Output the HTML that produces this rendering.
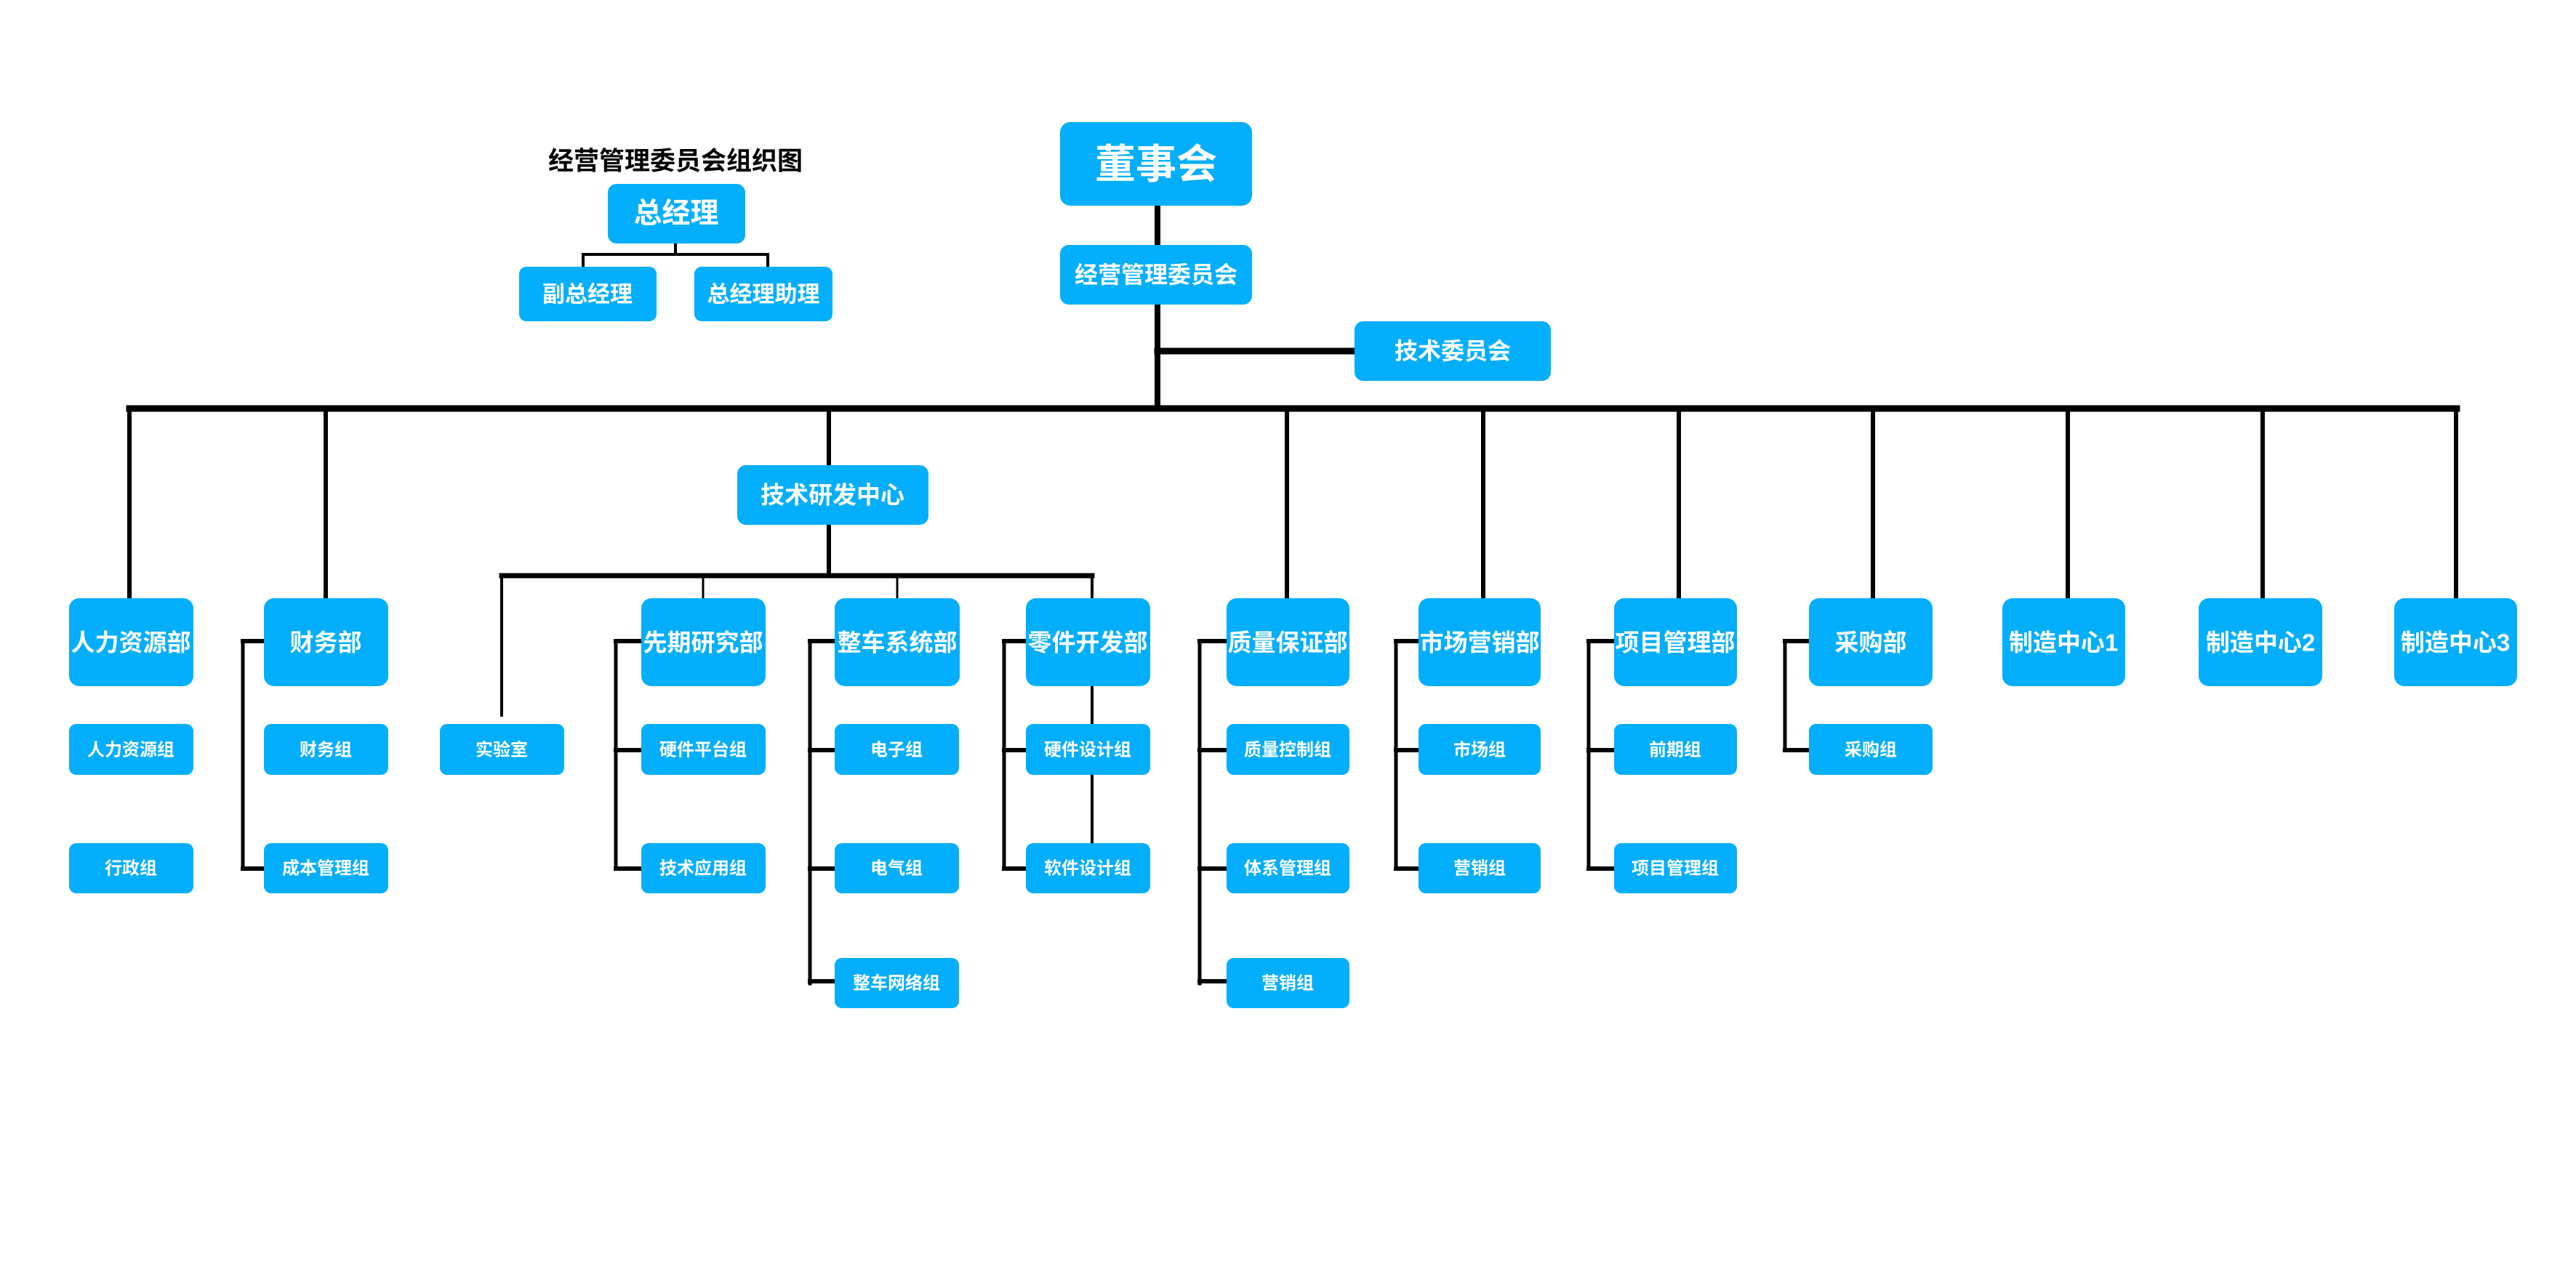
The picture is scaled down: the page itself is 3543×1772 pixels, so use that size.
<!DOCTYPE html>
<html><head><meta charset="utf-8"><style>
html,body{margin:0;padding:0;background:#fff;}
svg{display:block;}
text{font-family:"Liberation Sans","Noto Sans CJK SC",sans-serif;font-weight:bold;fill:#fff;text-anchor:middle;dominant-baseline:central;}
.t{fill:#000;}
rect{fill:#03aefd;}
</style></head><body>
<svg width="3543" height="1772" viewBox="0 0 3543 1772" xmlns="http://www.w3.org/2000/svg">
<g stroke="#000" fill="none" stroke-linecap="square">
<line x1="1592" y1="283" x2="1592" y2="562" stroke-width="8"/>
<line x1="1592" y1="483" x2="1863" y2="483" stroke-width="9"/>
<line x1="178" y1="562" x2="3379" y2="562" stroke-width="9"/>
<g stroke-width="6">
<line x1="178" y1="562" x2="178" y2="823"/>
<line x1="448" y1="562" x2="448" y2="823"/>
<line x1="1140" y1="562" x2="1140" y2="640"/>
<line x1="1770" y1="562" x2="1770" y2="823"/>
<line x1="2040" y1="562" x2="2040" y2="823"/>
<line x1="2309" y1="562" x2="2309" y2="823"/>
<line x1="2576" y1="562" x2="2576" y2="823"/>
<line x1="2844" y1="562" x2="2844" y2="823"/>
<line x1="3112" y1="562" x2="3112" y2="823"/>
<line x1="3378" y1="562" x2="3378" y2="823"/>
<line x1="1140" y1="722" x2="1140" y2="792"/>
</g>
<line x1="690" y1="792" x2="1502" y2="792" stroke-width="7"/>
<line x1="690" y1="792" x2="690" y2="984" stroke-width="4"/>
<line x1="967" y1="792" x2="967" y2="823" stroke-width="3"/>
<line x1="1234" y1="792" x2="1234" y2="823" stroke-width="3"/>
<line x1="1502" y1="792" x2="1502" y2="823" stroke-width="4"/>
<line x1="1502" y1="944" x2="1502" y2="1160" stroke-width="4"/>
<g stroke-width="4">
<line x1="929" y1="335" x2="929" y2="350"/>
<line x1="802" y1="350" x2="1056" y2="350"/>
<line x1="802" y1="350" x2="802" y2="367"/>
<line x1="1056" y1="350" x2="1056" y2="367"/>
</g>
<g stroke-width="5">
<line x1="334" y1="882" x2="334" y2="1195"/>
<line x1="847" y1="882" x2="847" y2="1195"/>
<line x1="1114" y1="882" x2="1114" y2="1353"/>
<line x1="1381" y1="882" x2="1381" y2="1195"/>
<line x1="1650" y1="882" x2="1650" y2="1353"/>
<line x1="1920" y1="882" x2="1920" y2="1195"/>
<line x1="2185" y1="882" x2="2185" y2="1195"/>
<line x1="2455" y1="882" x2="2455" y2="1032"/>
</g>
<g stroke-width="6">
<line x1="334" y1="882" x2="363" y2="882"/><line x1="334" y1="1195" x2="363" y2="1195"/>
<line x1="847" y1="882" x2="882" y2="882"/><line x1="847" y1="1032" x2="882" y2="1032"/><line x1="847" y1="1195" x2="882" y2="1195"/>
<line x1="1114" y1="882" x2="1148" y2="882"/><line x1="1114" y1="1032" x2="1148" y2="1032"/><line x1="1114" y1="1195" x2="1148" y2="1195"/><line x1="1114" y1="1350" x2="1148" y2="1350"/>
<line x1="1381" y1="882" x2="1411" y2="882"/><line x1="1381" y1="1032" x2="1411" y2="1032"/><line x1="1381" y1="1195" x2="1411" y2="1195"/>
<line x1="1650" y1="882" x2="1687" y2="882"/><line x1="1650" y1="1032" x2="1687" y2="1032"/><line x1="1650" y1="1195" x2="1687" y2="1195"/><line x1="1650" y1="1350" x2="1687" y2="1350"/>
<line x1="1920" y1="882" x2="1951" y2="882"/><line x1="1920" y1="1032" x2="1951" y2="1032"/><line x1="1920" y1="1195" x2="1951" y2="1195"/>
<line x1="2185" y1="882" x2="2220" y2="882"/><line x1="2185" y1="1032" x2="2220" y2="1032"/><line x1="2185" y1="1195" x2="2220" y2="1195"/>
<line x1="2455" y1="882" x2="2488" y2="882"/><line x1="2455" y1="1032" x2="2488" y2="1032"/>
</g>
</g>

<text class="t" x="929" y="222" font-size="35">经营管理委员会组织图</text>

<rect x="1458" y="168" width="264" height="115" rx="14"/><text x="1590" y="226" font-size="56">董事会</text>
<rect x="1458" y="337" width="264" height="82" rx="12"/><text x="1590" y="378" font-size="32">经营管理委员会</text>
<rect x="1863" y="442" width="270" height="82" rx="12"/><text x="1998" y="483" font-size="32">技术委员会</text>
<rect x="836" y="253" width="189" height="82" rx="12"/><text x="930" y="294" font-size="39">总经理</text>
<rect x="714" y="367" width="189" height="75" rx="10"/><text x="808" y="405" font-size="31">副总经理</text>
<rect x="955" y="367" width="190" height="75" rx="10"/><text x="1050" y="405" font-size="31">总经理助理</text>
<rect x="1014" y="640" width="263" height="82" rx="12"/><text x="1145" y="681" font-size="33">技术研发中心</text>

<g>
<rect x="95" y="823" width="171" height="121" rx="14"/><text x="180" y="884" font-size="33">人力资源部</text>
<rect x="363" y="823" width="171" height="121" rx="14"/><text x="448" y="884" font-size="33">财务部</text>
<rect x="882" y="823" width="171" height="121" rx="14"/><text x="967" y="884" font-size="33">先期研究部</text>
<rect x="1148" y="823" width="172" height="121" rx="14"/><text x="1234" y="884" font-size="33">整车系统部</text>
<rect x="1411" y="823" width="171" height="121" rx="14"/><text x="1496" y="884" font-size="33">零件开发部</text>
<rect x="1687" y="823" width="169" height="121" rx="14"/><text x="1771" y="884" font-size="33">质量保证部</text>
<rect x="1951" y="823" width="168" height="121" rx="14"/><text x="2035" y="884" font-size="33">市场营销部</text>
<rect x="2220" y="823" width="169" height="121" rx="14"/><text x="2304" y="884" font-size="33">项目管理部</text>
<rect x="2488" y="823" width="170" height="121" rx="14"/><text x="2573" y="884" font-size="33">采购部</text>
<rect x="2754" y="823" width="169" height="121" rx="14"/><text x="2838" y="884" font-size="33">制造中心1</text>
<rect x="3024" y="823" width="170" height="121" rx="14"/><text x="3109" y="884" font-size="33">制造中心2</text>
<rect x="3293" y="823" width="169" height="121" rx="14"/><text x="3377" y="884" font-size="33">制造中心3</text>
</g>

<g>
<rect x="95" y="996" width="171" height="70" rx="10"/><text x="180" y="1032" font-size="24">人力资源组</text>
<rect x="95" y="1160" width="171" height="69" rx="10"/><text x="180" y="1195" font-size="24">行政组</text>
<rect x="363" y="996" width="171" height="70" rx="10"/><text x="448" y="1032" font-size="24">财务组</text>
<rect x="363" y="1160" width="171" height="69" rx="10"/><text x="448" y="1195" font-size="24">成本管理组</text>
<rect x="605" y="996" width="171" height="70" rx="10"/><text x="690" y="1032" font-size="24">实验室</text>
<rect x="882" y="996" width="171" height="70" rx="10"/><text x="967" y="1032" font-size="24">硬件平台组</text>
<rect x="882" y="1160" width="171" height="69" rx="10"/><text x="967" y="1195" font-size="24">技术应用组</text>
<rect x="1148" y="996" width="171" height="70" rx="10"/><text x="1233" y="1032" font-size="24">电子组</text>
<rect x="1148" y="1160" width="171" height="69" rx="10"/><text x="1233" y="1195" font-size="24">电气组</text>
<rect x="1148" y="1318" width="171" height="69" rx="10"/><text x="1233" y="1353" font-size="24">整车网络组</text>
<rect x="1411" y="996" width="171" height="70" rx="10"/><text x="1496" y="1032" font-size="24">硬件设计组</text>
<rect x="1411" y="1160" width="171" height="69" rx="10"/><text x="1496" y="1195" font-size="24">软件设计组</text>
<rect x="1687" y="996" width="169" height="70" rx="10"/><text x="1771" y="1032" font-size="24">质量控制组</text>
<rect x="1687" y="1160" width="169" height="69" rx="10"/><text x="1771" y="1195" font-size="24">体系管理组</text>
<rect x="1687" y="1318" width="169" height="69" rx="10"/><text x="1771" y="1353" font-size="24">营销组</text>
<rect x="1951" y="996" width="168" height="70" rx="10"/><text x="2035" y="1032" font-size="24">市场组</text>
<rect x="1951" y="1160" width="168" height="69" rx="10"/><text x="2035" y="1195" font-size="24">营销组</text>
<rect x="2220" y="996" width="169" height="70" rx="10"/><text x="2304" y="1032" font-size="24">前期组</text>
<rect x="2220" y="1160" width="169" height="69" rx="10"/><text x="2304" y="1195" font-size="24">项目管理组</text>
<rect x="2488" y="996" width="170" height="70" rx="10"/><text x="2573" y="1032" font-size="24">采购组</text>
</g>
</svg>
</body></html>
